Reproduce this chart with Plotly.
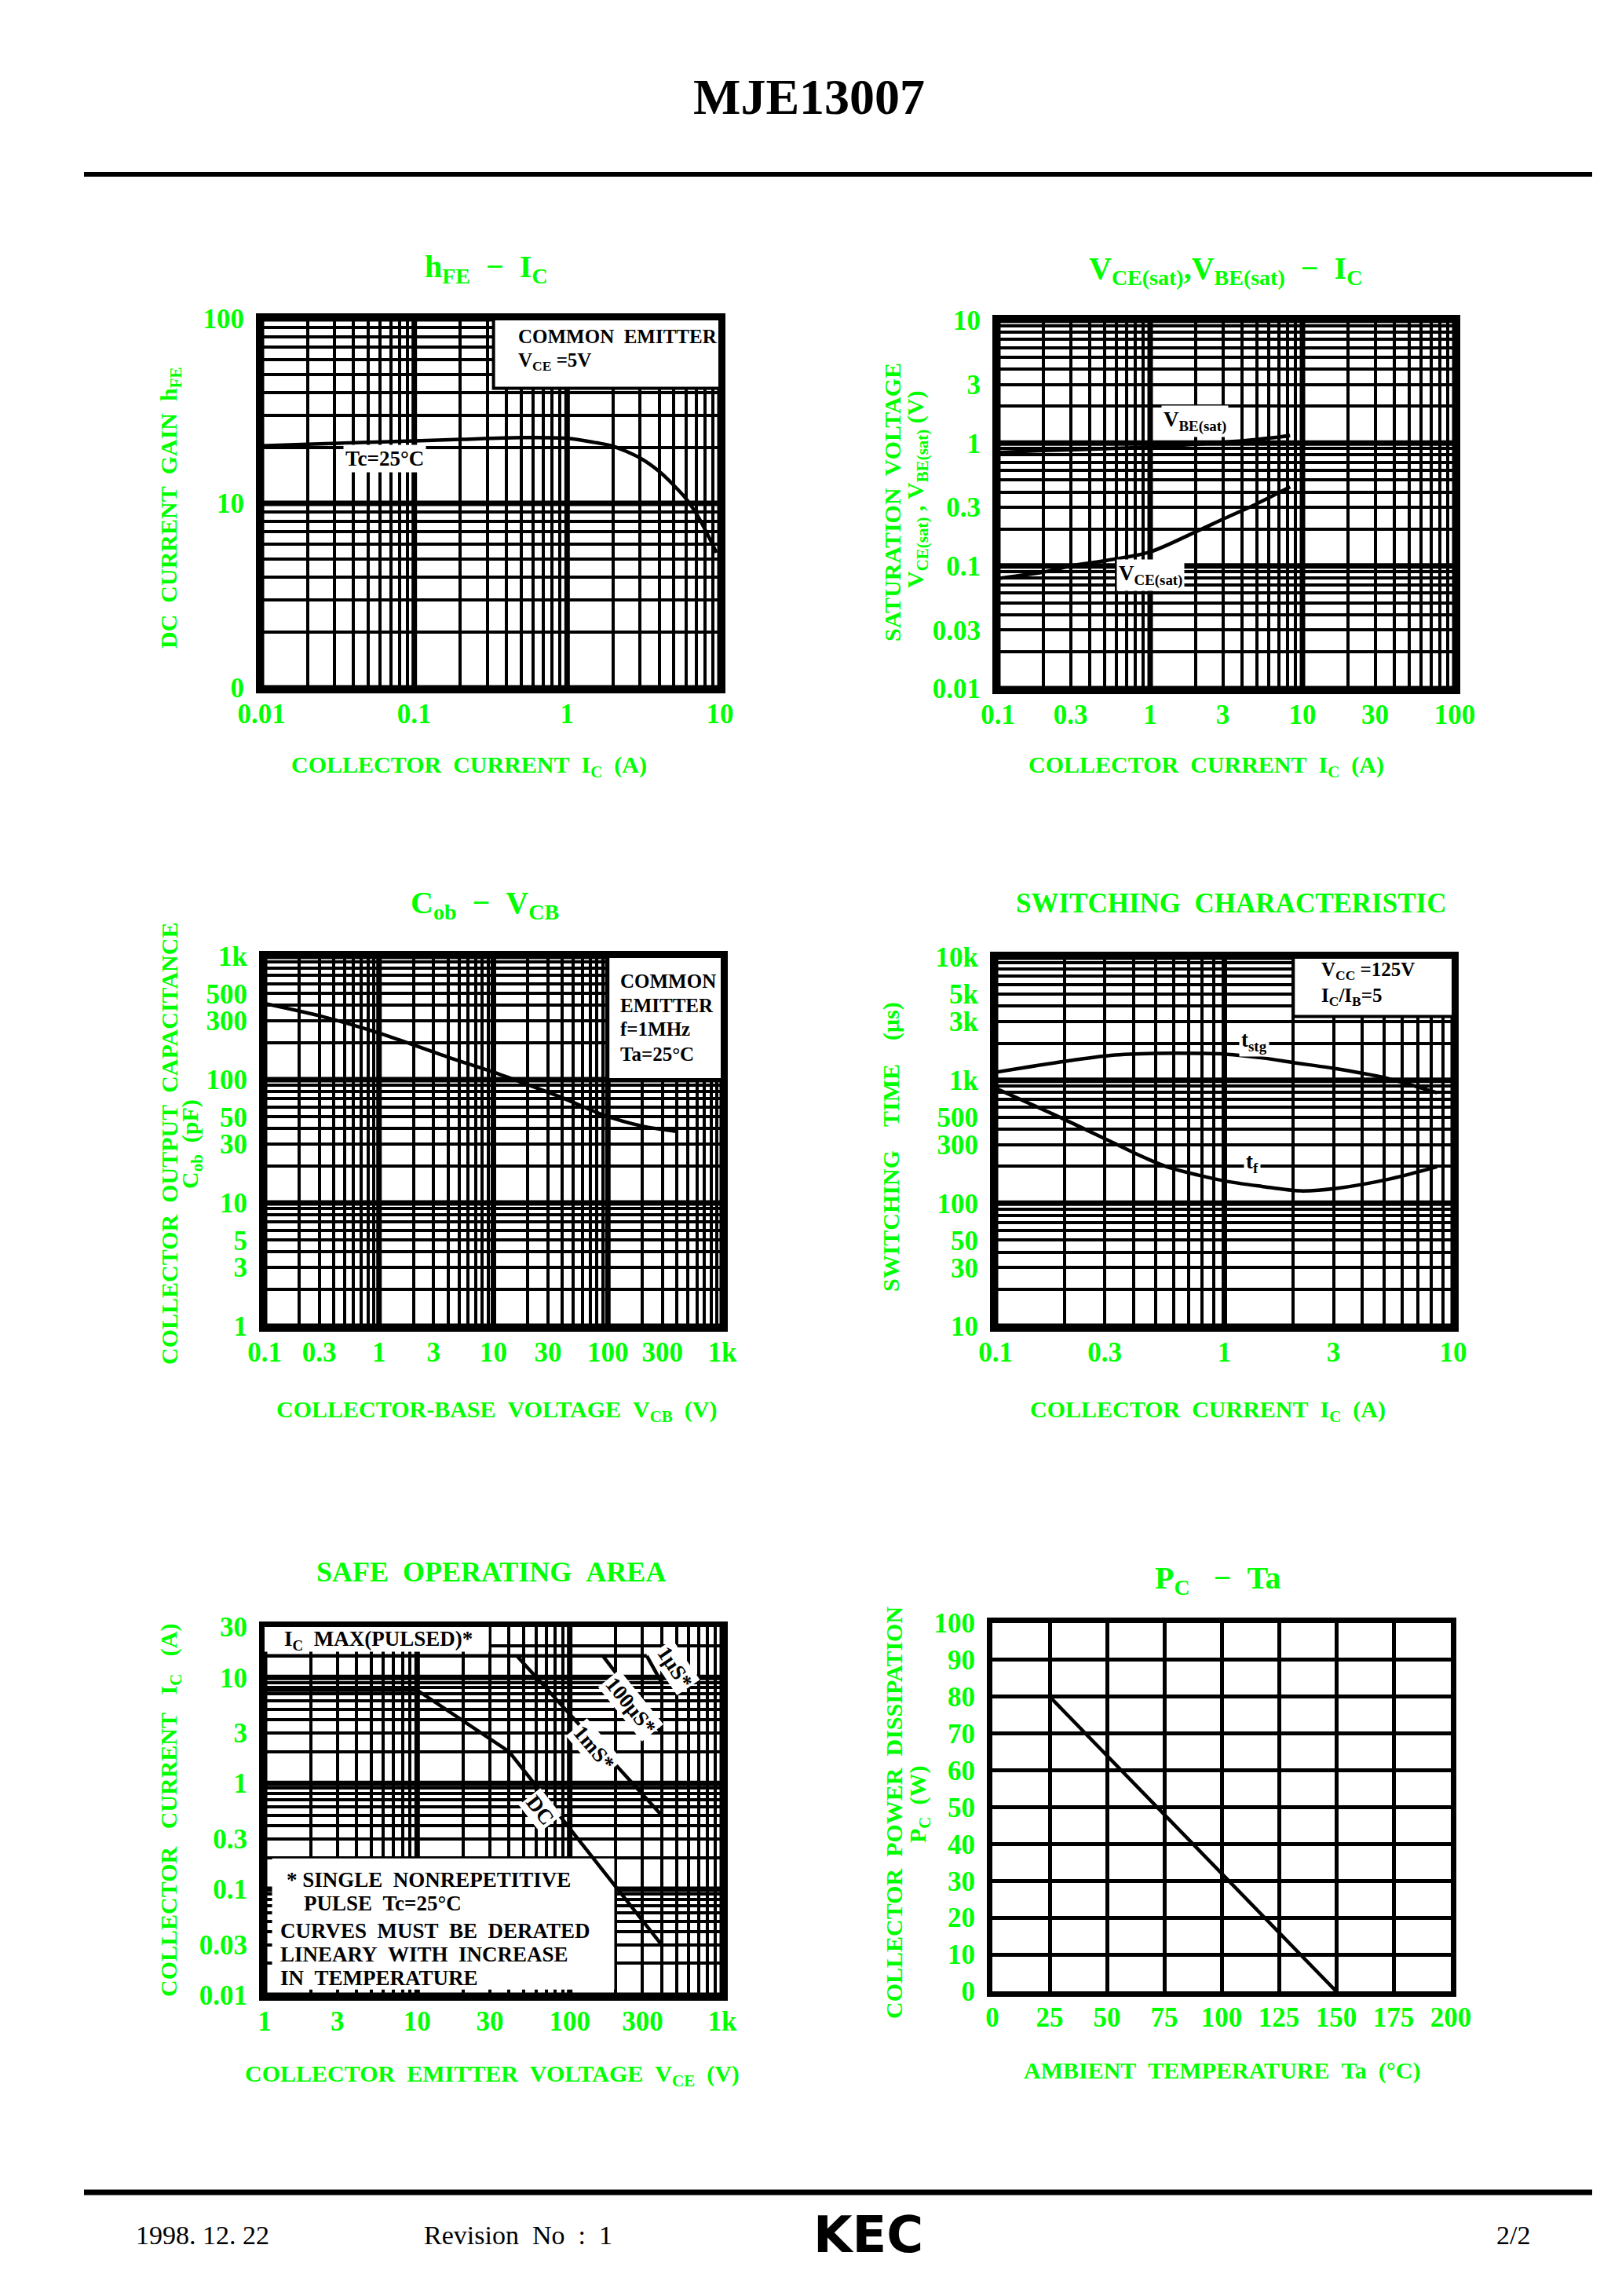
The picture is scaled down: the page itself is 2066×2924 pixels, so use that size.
import math
import plotly.graph_objects as go

W, H = 2066, 2924

# ---------------- data ----------------
hfe_ic = [0.01, 0.02, 0.05, 0.1, 0.2, 0.5, 1, 1.5, 2, 3, 4, 5, 6, 7, 8, 9.5]
hfe_val = [20.5, 20.9, 21.4, 21.8, 22.2, 22.7, 22.5, 21.4, 20.4, 17.6, 14.9, 12.5, 10.6, 8.8, 7.2, 5.4]

vbe_ic = [0.1, 0.2, 0.5, 1, 2, 5, 8.3]
vbe_val = [0.84, 0.87, 0.9, 0.93, 0.98, 1.07, 1.15]
vce_ic = [0.1, 0.2, 0.3, 0.5, 1, 2, 3, 5, 8.3]
vce_val = [0.079, 0.089, 0.1, 0.11, 0.13, 0.19, 0.24, 0.32, 0.44]

cob_vcb = [0.1, 0.33, 1, 4.2, 10, 20, 42, 90, 200, 400]
cob_val = [415, 323, 239, 150, 115, 91, 70, 52, 42, 38]

tstg_ic = [0.1, 0.2, 0.32, 0.5, 0.8, 1, 1.5, 2, 3, 5, 8.5]
tstg_val = [1160, 1420, 1590, 1650, 1650, 1630, 1510, 1390, 1250, 1050, 790]
tf_ic = [0.1, 0.2, 0.32, 0.45, 0.57, 1, 1.46, 2.15, 3.17, 5.25, 8.5]
tf_val = [860, 480, 316, 234, 196, 152, 137, 126, 133, 157, 198]

soa_pulsed_v = [1, 320]
soa_pulsed_i = [16, 16]
soa_dc_v = [1, 10, 40, 400]
soa_dc_i = [7.6, 7.6, 2, 0.03]
soa_1ms_v = [45, 400]
soa_1ms_i = [16, 0.5]
soa_100us_v = [165, 400]
soa_100us_i = [16, 3]
soa_1us_v = [320, 400]
soa_1us_i = [16, 9]

pc_ta = [0, 25, 150]
pc_w = [80, 80, 0]

# tick labels
hfe_xticks = [0.01, 0.1, 1, 10]
hfe_xlabels = ['0.01', '0.1', '1', '10']
hfe_yticks = [1, 10, 100]
hfe_ylabels = ['0', '10', '100']
sat_xticks = [0.1, 0.3, 1, 3, 10, 30, 100]
sat_xlabels = ['0.1', '0.3', '1', '3', '10', '30', '100']
sat_yticks = [0.01, 0.03, 0.1, 0.3, 1, 3, 10]
sat_ylabels = ['0.01', '0.03', '0.1', '0.3', '1', '3', '10']
cob_xticks = [0.1, 0.3, 1, 3, 10, 30, 100, 300, 1000]
cob_xlabels = ['0.1', '0.3', '1', '3', '10', '30', '100', '300', '1k']
cob_yticks = [1, 3, 5, 10, 30, 50, 100, 300, 500, 1000]
cob_ylabels = ['1', '3', '5', '10', '30', '50', '100', '300', '500', '1k']
sw_xticks = [0.1, 0.3, 1, 3, 10]
sw_xlabels = ['0.1', '0.3', '1', '3', '10']
sw_yticks = [10, 30, 50, 100, 300, 500, 1000, 3000, 5000, 10000]
sw_ylabels = ['10', '30', '50', '100', '300', '500', '1k', '3k', '5k', '10k']
soa_xticks = [1, 3, 10, 30, 100, 300, 1000]
soa_xlabels = ['1', '3', '10', '30', '100', '300', '1k']
soa_yticks = [0.01, 0.03, 0.1, 0.3, 1, 3, 10, 30]
soa_ylabels = ['0.01', '0.03', '0.1', '0.3', '1', '3', '10', '30']
pc_xticks = [0, 25, 50, 75, 100, 125, 150, 175, 200]
pc_yticks = [0, 10, 20, 30, 40, 50, 60, 70, 80, 90, 100]

# ---------------- styling ----------------
GREEN = '#00FF00'
SERIF = 'Liberation Serif'
TICKFONT = dict(family=SERIF, size=35, color=GREEN, weight='bold')
L = math.log10


def sp(s, n=2):
    return s.replace(' ', '\u00a0' * n)


def fx(px):
    return px / W


def fy(py):
    return 1 - py / H


def grid_vals(lo, hi):
    vals = []
    e0 = math.floor(L(lo) + 1e-9)
    e1 = math.ceil(L(hi) - 1e-9)
    for e in range(e0, e1 + 1):
        for m in range(1, 10):
            v = m * 10 ** e
            if lo * (1 - 1e-9) <= v <= hi * (1 + 1e-9):
                vals.append(v)
    return vals


def decades(lo, hi):
    return [v for v in grid_vals(lo, hi) if abs(L(v) - round(L(v))) < 1e-9]


def log_axis(lo, hi, ticks, labels, dom, anchor, standoff):
    g = grid_vals(lo, hi)
    minor_vals = [v for v in g if not any(abs(v - t) <= 1e-6 * t for t in ticks)]
    return dict(type='log', range=[L(lo), L(hi)], domain=dom, anchor=anchor,
                tickmode='array', tickvals=ticks, ticktext=labels,
                showgrid=True, gridcolor='black', gridwidth=4,
                minor=dict(tickmode='array', tickvals=minor_vals, showgrid=True,
                           gridcolor='black', gridwidth=4, ticks=''),
                showline=True, linecolor='black', linewidth=7, mirror=True,
                ticks='', tickfont=TICKFONT, ticklabelstandoff=standoff, automargin=False,
                zeroline=False, fixedrange=True)


def lin_axis(lo, hi, ticks, dom, anchor, standoff):
    return dict(type='linear', range=[lo, hi], domain=dom, anchor=anchor,
                tickmode='array', tickvals=ticks, ticktext=[str(t) for t in ticks],
                showgrid=True, gridcolor='black', gridwidth=5,
                showline=True, linecolor='black', linewidth=7, mirror=True,
                ticks='', tickfont=TICKFONT, ticklabelstandoff=standoff, automargin=False,
                zeroline=False, fixedrange=True)


# plot areas in pixels (left, right, top, bottom)
areas = {
    1: (325, 909, 398, 868),
    2: (1263, 1845, 400, 869),
    3: (329, 912, 1210, 1681),
    4: (1260, 1843, 1211, 1681),
    5: (329, 912, 2064, 2533),
    6: (1256, 1840, 2059, 2528),
}


def dom(i):
    l, r, t, b = areas[i]
    return [fx(l), fx(r)], [fy(b), fy(t)]


fig = go.Figure()

line_style = dict(color='black', width=4.5)
spline = dict(color='black', width=4.5, shape='spline', smoothing=0.8)

fig.add_trace(go.Scatter(x=hfe_ic, y=hfe_val, xaxis='x', yaxis='y', mode='lines', line=spline))
fig.add_trace(go.Scatter(x=vbe_ic, y=vbe_val, xaxis='x2', yaxis='y2', mode='lines', line=spline))
fig.add_trace(go.Scatter(x=vce_ic, y=vce_val, xaxis='x2', yaxis='y2', mode='lines', line=spline))
fig.add_trace(go.Scatter(x=cob_vcb, y=cob_val, xaxis='x3', yaxis='y3', mode='lines', line=spline))
fig.add_trace(go.Scatter(x=tstg_ic, y=tstg_val, xaxis='x4', yaxis='y4', mode='lines', line=spline))
fig.add_trace(go.Scatter(x=tf_ic, y=tf_val, xaxis='x4', yaxis='y4', mode='lines', line=spline))
for vx, iy in [(soa_pulsed_v, soa_pulsed_i), (soa_dc_v, soa_dc_i), (soa_1ms_v, soa_1ms_i),
               (soa_100us_v, soa_100us_i), (soa_1us_v, soa_1us_i)]:
    fig.add_trace(go.Scatter(x=vx, y=iy, xaxis='x5', yaxis='y5', mode='lines', line=line_style))
fig.add_trace(go.Scatter(x=pc_ta, y=pc_w, xaxis='x6', yaxis='y6', mode='lines', line=line_style))

layout = dict(width=W, height=H, margin=dict(l=0, r=0, t=0, b=0, autoexpand=False),
              template='none',
              paper_bgcolor='white', plot_bgcolor='white', showlegend=False)

d = {i: dom(i) for i in areas}
ranges = {
    1: ((0.01, 10), (1, 100)),
    2: ((0.1, 100), (0.01, 10)),
    3: ((0.1, 1000), (1, 1000)),
    4: ((0.1, 10), (10, 10000)),
    5: ((1, 1000), (0.01, 30)),
}
XS, YS = -4, 8
layout['xaxis'] = log_axis(*ranges[1][0], hfe_xticks, hfe_xlabels, d[1][0], 'y', XS)
layout['yaxis'] = log_axis(*ranges[1][1], hfe_yticks, hfe_ylabels, d[1][1], 'x', YS)
layout['xaxis2'] = log_axis(*ranges[2][0], sat_xticks, sat_xlabels, d[2][0], 'y2', XS)
layout['yaxis2'] = log_axis(*ranges[2][1], sat_yticks, sat_ylabels, d[2][1], 'x2', YS)
layout['xaxis3'] = log_axis(*ranges[3][0], cob_xticks, cob_xlabels, d[3][0], 'y3', XS)
layout['yaxis3'] = log_axis(*ranges[3][1], cob_yticks, cob_ylabels, d[3][1], 'x3', YS)
layout['xaxis4'] = log_axis(*ranges[4][0], sw_xticks, sw_xlabels, d[4][0], 'y4', XS)
layout['yaxis4'] = log_axis(*ranges[4][1], sw_yticks, sw_ylabels, d[4][1], 'x4', YS)
layout['xaxis5'] = log_axis(*ranges[5][0], soa_xticks, soa_xlabels, d[5][0], 'y5', XS)
layout['yaxis5'] = log_axis(*ranges[5][1], soa_yticks, soa_ylabels, d[5][1], 'x5', YS)
layout['xaxis6'] = lin_axis(0, 200, pc_xticks, d[6][0], 'y6', XS)
layout['yaxis6'] = lin_axis(0, 100, pc_yticks, d[6][1], 'x6', YS)
fig.update_layout(**layout)

# ---------------- shapes ----------------
shapes = []
# header / footer rules
shapes.append(dict(type='line', xref='paper', yref='paper', x0=fx(99), x1=fx(2020),
                   y0=fy(214), y1=fy(214), line=dict(color='black', width=6)))
shapes.append(dict(type='line', xref='paper', yref='paper', x0=fx(99), x1=fx(2020),
                   y0=fy(2784), y1=fy(2784), line=dict(color='black', width=7)))

# heavy decade grid lines (in the subplot's own data coordinates)
for i, ((xlo, xhi), (ylo, yhi)) in ranges.items():
    xs = 'x' if i == 1 else 'x%d' % i
    ys = 'y' if i == 1 else 'y%d' % i
    for v in decades(xlo, xhi):
        shapes.append(dict(type='line', xref=xs, yref=ys, x0=v, x1=v, y0=ylo, y1=yhi,
                           layer='between', line=dict(color='black', width=7)))
    for v in decades(ylo, yhi):
        shapes.append(dict(type='line', xref=xs, yref=ys, x0=xlo, x1=xhi, y0=v, y1=v,
                           layer='between', line=dict(color='black', width=7)))


def box(xr, yr, x0, x1, y0, y1, border=True):
    shapes.append(dict(type='rect', xref=xr, yref=yr, x0=x0, x1=x1, y0=y0, y1=y1,
                       fillcolor='white', layer='between',
                       line=dict(color='black', width=4 if border else 0)))


box('x', 'y', 0.33, 10, 42, 100)
box('x3', 'y3', 100, 1000, 100, 1000)
box('x4', 'y4', 2, 10, 3300, 10000)
box('x5', 'y5', 1.0, 29.5, 17.5, 30, border=False)
box('x5', 'y5', 1.12, 196, 0.0113, 0.196, border=False)
fig.update_layout(shapes=shapes)

# ---------------- annotations ----------------
ann = []


def pa(text, px, py, size, color=GREEN, angle=0, xanchor='center', family=SERIF, weight='bold'):
    ann.append(dict(text=text, x=fx(px), y=fy(py), xref='paper', yref='paper',
                    showarrow=False, xanchor=xanchor, yanchor='middle', textangle=angle,
                    font=dict(family=family, size=size, color=color, weight=weight)))


def da(text, xr, yr, x, y, size=27, angle=0, bg='white'):
    ann.append(dict(text=text, x=x, y=y, xref=xr, yref=yr, showarrow=False,
                    xanchor='center', yanchor='middle', textangle=angle,
                    bgcolor=bg, borderpad=2,
                    font=dict(family=SERIF, size=size, color='black', weight='bold')))


# header and footer
pa('MJE13007', 1022, 115, 64, color='black', weight='bold')
pa('1998. 12. 22', 250, 2838, 34, color='black', weight='normal')
pa('Revision\u00a0\u00a0No\u00a0\u00a0:\u00a0\u00a01', 652, 2838, 34, color='black', weight='normal')
pa('KEC', 1098, 2838, 64, color='black', family='DejaVu Sans', weight='bold')
pa('2/2', 1919, 2838, 34, color='black', weight='normal')

# chart titles
pa('h<sub>FE</sub>\u00a0\u00a0−\u00a0\u00a0I<sub>C</sub>', 611, 334, 40)
pa('V<sub>CE(sat)</sub>,V<sub>BE(sat)</sub>\u00a0\u00a0−\u00a0\u00a0I<sub>C</sub>', 1553, 336, 40)
pa('C<sub>ob</sub>\u00a0\u00a0−\u00a0\u00a0V<sub>CB</sub>', 609, 1144, 40)
pa(sp('SWITCHING CHARACTERISTIC'), 1560, 1142, 35)
pa(sp('SAFE OPERATING AREA'), 617, 1994, 36)
pa('P<sub>C</sub>\u00a0\u00a0\u00a0−\u00a0\u00a0Ta', 1543, 2004, 40)

# axis titles
AT = 30
pa(sp('COLLECTOR CURRENT I<sub>C</sub> (A)'), 589, 968, AT)
pa(sp('DC CURRENT GAIN h<sub>FE</sub>'), 209, 639, AT, angle=-90)
pa(sp('COLLECTOR CURRENT I<sub>C</sub> (A)'), 1528, 968, AT)
pa(sp('SATURATION VOLTAGE'), 1128, 632, AT, angle=-90)
pa('V<sub>CE(sat)</sub>\u00a0,\u00a0V<sub>BE(sat)</sub>\u00a0(V)', 1160, 615, AT, angle=-90)
pa(sp('COLLECTOR-BASE VOLTAGE V<sub>CB</sub> (V)'), 624, 1789, AT)
pa(sp('COLLECTOR OUTPUT CAPACITANCE'), 207, 1449, AT, angle=-90)
pa(sp('C<sub>ob</sub> (pF)'), 236, 1449, AT, angle=-90)
pa(sp('COLLECTOR CURRENT I<sub>C</sub> (A)'), 1530, 1789, AT)
pa(sp('SWITCHING TIME (μs)', 4), 1127, 1453, AT, angle=-90)
pa(sp('COLLECTOR EMITTER VOLTAGE V<sub>CE</sub> (V)'), 619, 2635, AT)
pa(sp('COLLECTOR CURRENT I<sub>C</sub> (A)', 3), 209, 2297, AT, angle=-90)
pa(sp('AMBIENT TEMPERATURE Ta (°C)'), 1548, 2629, AT)
pa(sp('COLLECTOR POWER DISSIPATION'), 1130, 2301, AT, angle=-90)
pa(sp('P<sub>C</sub> (W)'), 1163, 2290, AT, angle=-90)

# in-plot texts (black)
IT = 27
BT = 25
pa('COMMON\u00a0\u00a0EMITTER', 650, 420, BT, color='black', xanchor='left')
pa('V<sub>CE</sub> =5V', 650, 452, BT, color='black', xanchor='left')
da('Tc=25°C', 'x', 'y', L(0.064), L(17.4), IT)
da('V<sub>BE(sat)</sub>', 'x2', 'y2', L(1.96), L(1.5), IT)
da('V<sub>CE(sat)</sub>', 'x2', 'y2', L(1.0), L(0.084), IT)
for txt, yy in [('COMMON', 1242), ('EMITTER', 1272), ('f=1MHz', 1303), ('Ta=25°C', 1334)]:
    pa(txt, 780, yy, BT, color='black', xanchor='left')
pa('V<sub>CC</sub> =125V', 1673, 1228, BT, color='black', xanchor='left')
pa('I<sub>C</sub>/I<sub>B</sub>=5', 1673, 1261, BT, color='black', xanchor='left')
da('t<sub>stg</sub>', 'x4', 'y4', L(1.35), L(2080), IT)
da('t<sub>f</sub>', 'x4', 'y4', L(1.32), L(212), IT)

# SOA texts
pa('I<sub>C</sub>\u00a0\u00a0MAX(PULSED)*', 352, 2081, IT, color='black', xanchor='left')
da('1μS*', 'x5', 'y5', L(486), L(12.5), IT, angle=56)
da('100μS*', 'x5', 'y5', L(250), L(5.4), IT, angle=51)
da('1mS*', 'x5', 'y5', L(144), L(2.15), IT, angle=50)
da('DC', 'x5', 'y5', L(64), L(0.565), IT, angle=52)
pa('*\u00a0SINGLE\u00a0\u00a0NONREPETITIVE', 355, 2386, IT, color='black', xanchor='left')
pa('PULSE\u00a0\u00a0Tc=25°C', 377, 2416, IT, color='black', xanchor='left')
pa(sp('CURVES MUST BE DERATED'), 347, 2451, IT, color='black', xanchor='left')
pa(sp('LINEARY WITH INCREASE'), 347, 2481, IT, color='black', xanchor='left')
pa(sp('IN TEMPERATURE'), 347, 2511, IT, color='black', xanchor='left')

fig.update_layout(annotations=ann)

fig.write_html('out.html')
